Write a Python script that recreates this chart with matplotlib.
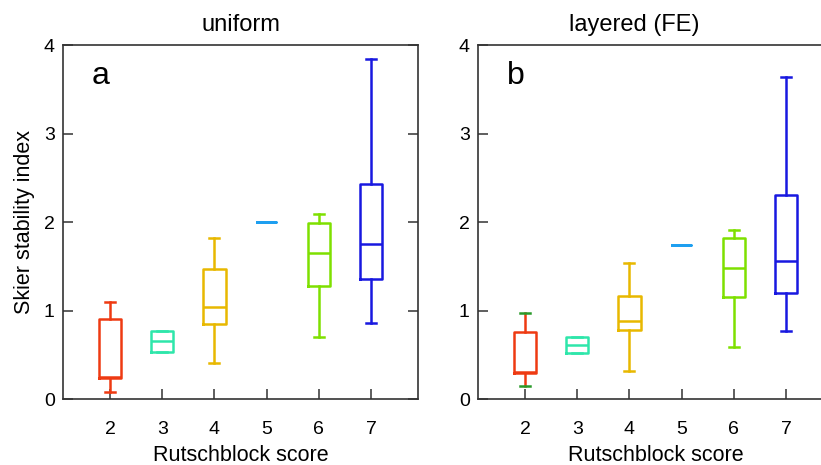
import matplotlib
matplotlib.use("Agg")
import matplotlib.pyplot as plt

plt.rcParams['font.family'] = ['Liberation Sans', 'DejaVu Sans']

scores = [2, 3, 4, 5, 6, 7]
colors = ['#ee3a12', '#2ee6aa', '#e8b800', '#1e9ff0', '#7ee000', '#1818e0']

# panel a: uniform
a_low = [0.075, 0.534, 0.403, 2.00, 0.700, 0.858]
a_q1 = [0.235, 0.534, 0.850, 2.00, 1.279, 1.351]
a_med = [0.250, 0.651, 1.035, 2.00, 1.648, 1.750]
a_q3 = [0.903, 0.768, 1.471, 2.00, 1.994, 2.431]
a_high = [1.095, 0.768, 1.821, 2.00, 2.092, 3.842]

# panel b: layered (FE)
b_low = [0.150, 0.519, 0.312, 1.735, 0.583, 0.768]
b_q1 = [0.293, 0.519, 0.775, 1.735, 1.151, 1.193]
b_med = [0.305, 0.610, 0.884, 1.735, 1.475, 1.562]
b_q3 = [0.756, 0.700, 1.159, 1.735, 1.825, 2.307]
b_high = [0.975, 0.700, 1.535, 1.735, 1.915, 3.635]


def draw_panel(ax, low, q1, med, q3, high, title, letter, title_x, cap_override=None):
    for i, s in enumerate(scores):
        st = [dict(whislo=low[i], q1=q1[i], med=med[i], q3=q3[i], whishi=high[i], fliers=[])]
        c = colors[i]
        capc = c
        if cap_override is not None and i == 0:
            capc = cap_override
        w = 0.36 if q1[i] == q3[i] else 0.43
        ax.bxp(st, positions=[s], widths=w, capwidths=0.19, showfliers=False,
               boxprops=dict(color=c, linewidth=1.8),
               medianprops=dict(color=c, linewidth=1.8),
               whiskerprops=dict(color=c, linewidth=1.8),
               capprops=dict(color=capc, linewidth=1.8),
               manage_ticks=False)
    ax.set_xlim(1.1, 7.9)
    ax.set_ylim(0, 4)
    ax.set_xticks(scores)
    ax.set_yticks([0, 1, 2, 3, 4])
    ax.tick_params(axis='x', direction='in', length=7, width=1.1, pad=16,
                   labelsize=14, color='#333333', top=False)
    ax.tick_params(axis='y', direction='in', length=7, width=1.1, pad=6,
                   labelsize=14, color='#333333', right=True)
    for sp in ax.spines.values():
        sp.set_linewidth(1.2)
        sp.set_color('#333333')
    ax.set_xlabel('Rutschblock score', fontsize=15.5, labelpad=5)
    ax.set_title(title, fontsize=17, pad=10, x=title_x)
    ax.text(0.082, 0.89, letter, transform=ax.transAxes, fontsize=23, va='baseline')


fig = plt.figure(figsize=(8.21, 4.65), dpi=100)
ax1 = fig.add_axes([0.0767, 0.1419, 0.4324, 0.7613])
ax2 = fig.add_axes([0.5822, 0.1419, 0.4324, 0.7613])

draw_panel(ax1, a_low, a_q1, a_med, a_q3, a_high, 'uniform', 'a', 0.5)
draw_panel(ax2, b_low, b_q1, b_med, b_q3, b_high, 'layered (FE)', 'b', 0.44,
           cap_override='#2a9a2a')
ax1.set_ylabel('Skier stability index', fontsize=15.5, labelpad=6)

fig.savefig('out.png', dpi=100)
